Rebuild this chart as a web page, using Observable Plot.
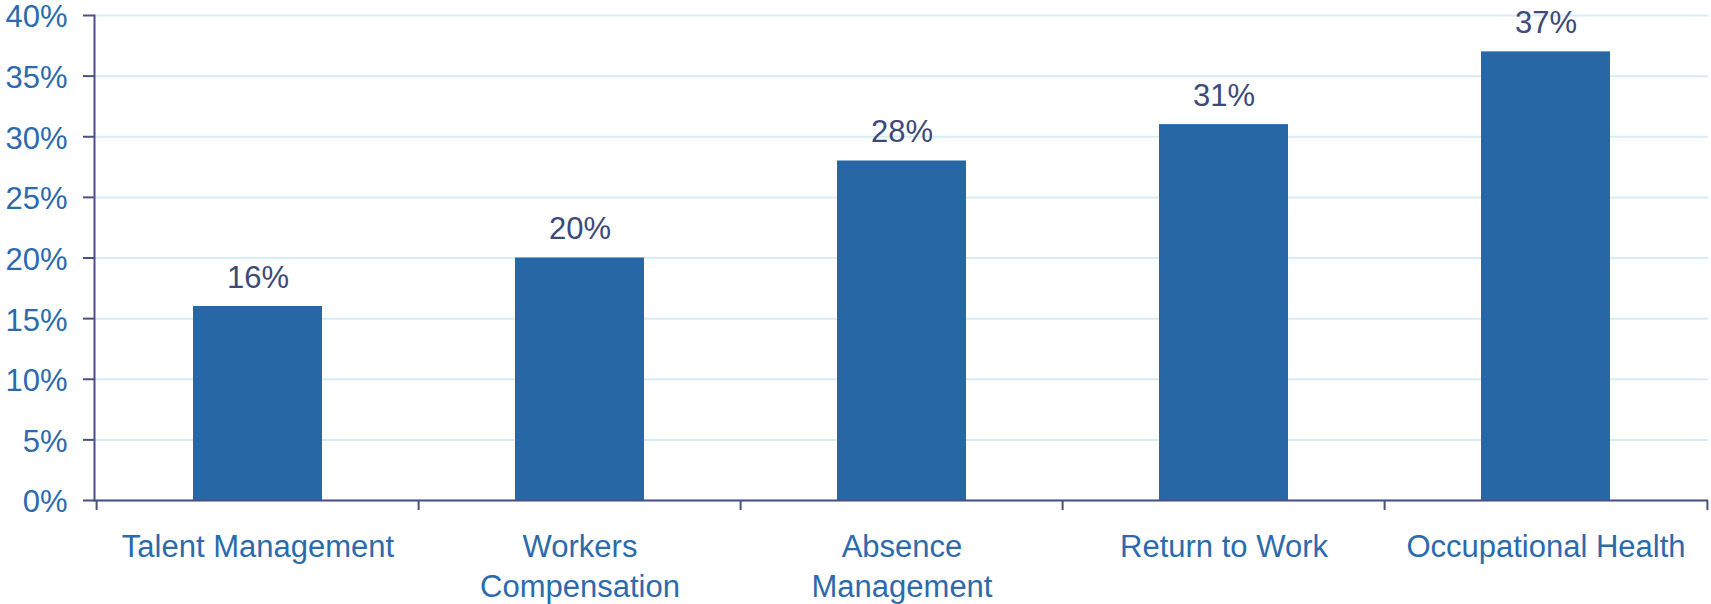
<!DOCTYPE html>
<html>
<head>
<meta charset="utf-8">
<script src="https://cdn.jsdelivr.net/npm/d3@7"></script>
<script src="https://cdn.jsdelivr.net/npm/@observablehq/plot@0.6"></script>
<style>
  html, body { margin: 0; padding: 0; background: #ffffff; }
  #chart svg { display: block; }
</style>
</head>
<body>
<div id="chart"></div>
<script>
const categories = ["Talent Management", "Workers Compensation", "Absence Management", "Return to Work", "Occupational Health"];
const categoryLabels = ["Talent Management", "Workers\nCompensation", "Absence\nManagement", "Return to Work", "Occupational Health"];
const values = [16, 20, 28, 31, 37];
const yTicks = [0, 5, 10, 15, 20, 25, 30, 35, 40];

const data = categories.map((c, i) => ({cat: c, value: values[i]}));
const labelOf = new Map(categories.map((c, i) => [c, categoryLabels[i]]));

const W = 1711, H = 604;
const mL = 94, mR = 3, mT = 15, mB = 104;
const step = (W - mL - mR) / categories.length;

const barColor = "#2767a6";
const axisColor = "#4a5080";
const tickTextColor = "#2b6aad";
const valueTextColor = "#3c4a7a";
const gridColor = "#d8ecf5";
const font = "'Liberation Sans', Arial, sans-serif";
const blank = () => "";

const chart = Plot.plot({
  width: W,
  height: H,
  marginLeft: mL,
  marginRight: mR,
  marginTop: mT,
  marginBottom: mB,
  style: {fontFamily: font, fontSize: "31px", background: "#ffffff"},
  x: {domain: categories, paddingInner: 0.6, paddingOuter: 0.3, label: null},
  y: {domain: [0, 40], ticks: yTicks, label: null},
  marks: [
    Plot.gridY(yTicks, {stroke: gridColor, strokeOpacity: 1, strokeWidth: 2}),
    Plot.barY(data, {x: "cat", y: "value", fill: barColor}),
    Plot.ruleY([0], {stroke: axisColor, strokeWidth: 2}),
    Plot.frame({anchor: "left", stroke: axisColor, strokeWidth: 2}),
    Plot.axisY({ticks: yTicks, tickSize: 11, tickFormat: blank, stroke: axisColor, strokeWidth: 2, strokeOpacity: 1}),
    Plot.axisY({ticks: yTicks, tickSize: 0, tickPadding: 27, dy: 2, tickFormat: d => d + "%", fill: tickTextColor, fontSize: 31}),
    Plot.axisX({tickSize: 10, tickFormat: blank, dx: -step / 2, stroke: axisColor, strokeWidth: 2, strokeOpacity: 1}),
    Plot.axisX({ticks: [categories[categories.length - 1]], tickSize: 10, tickFormat: blank, dx: step / 2, stroke: axisColor, strokeWidth: 2, strokeOpacity: 1}),
    Plot.axisX({tickSize: 0, tickPadding: 27, tickFormat: d => labelOf.get(d), fill: tickTextColor, fontSize: 31, lineHeight: 1.32}),
    Plot.text(data, {x: "cat", y: "value", text: d => d.value + "%", dy: -19, lineAnchor: "bottom", fill: valueTextColor, fontSize: 31})
  ]
});
document.getElementById("chart").appendChild(chart);
</script>
</body>
</html>
